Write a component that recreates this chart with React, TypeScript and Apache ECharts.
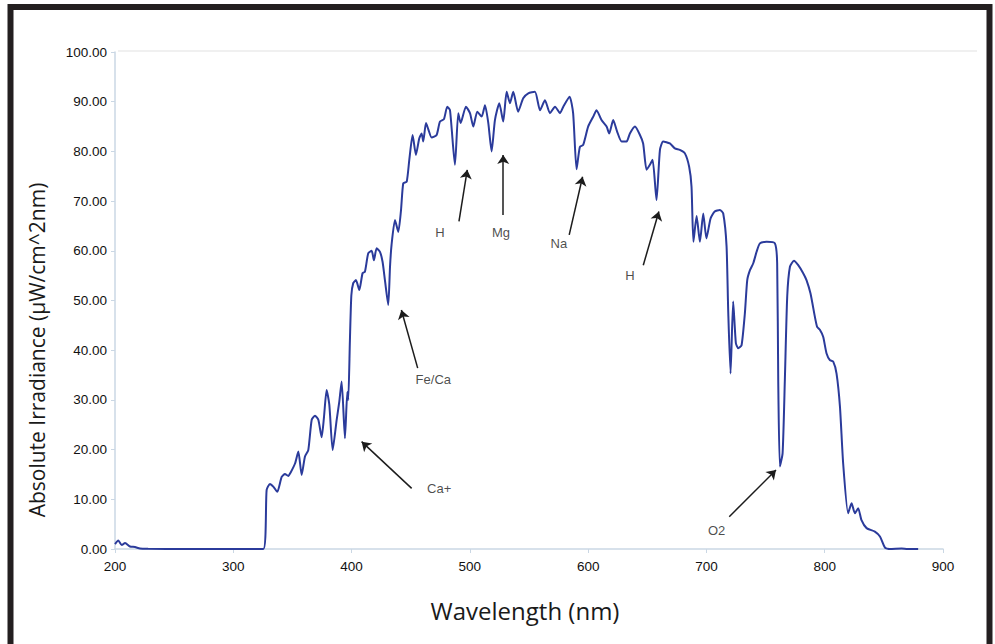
import React, { useEffect, useRef } from "react";
import * as echarts from "echarts";

// Spectrum: wavelength (nm) and absolute irradiance (µW/cm^2nm)
const wavelength: number[] = [
  200, 202.8, 205.7, 208.5, 212.7, 216.9, 221.1, 228, 260, 300, 325.4,
  328.2, 331, 334, 337.2, 340.9, 343.7, 346.5, 348.5, 352.2, 355, 357.8, 360.6, 363.4, 366.3, 369.1,
  371.9, 374.7, 376.7, 378.9, 381.2, 384, 387.4, 389.6, 391.6, 394.4, 396.4, 397.2, 398.6, 399.8,
  401.4, 403.7, 406.5, 409.3, 411.3, 414.1, 417, 418.9, 421.2, 424, 426.2, 428.2, 431, 432.5, 433.8,
  436.7, 439.5, 441.8, 443.7, 446.6, 448.8, 451.6, 454.4, 457.2, 459.2, 460.6, 462.9, 464.8, 467.7,
  471.9, 474.7, 478.1, 480.9, 483.2, 487.4, 490.2, 492.2, 496.7, 500.1, 502.9, 506.3, 510, 512.8,
  515.6, 518.4, 521.2, 524.9, 528.2, 531.1, 533.9, 536.7, 540.8, 545.1, 549.4, 555, 559.3, 563.5,
  567.7, 572, 576.2, 579, 584.3, 587.3, 590.2, 593, 595.8, 600, 604.3, 607.1, 611.3, 615.6, 617.8,
  621.2, 624.5, 628.3, 632.5, 635.3, 639.6, 643.8, 646.5, 649.4, 652.2, 654.5, 657.8, 660.7, 663.4,
  669.1, 673.3, 677.5, 681.8, 685.4, 687.4, 689, 691.7, 694.5, 697.3, 700, 703.5, 707, 711.4, 714.2,
  717, 718.4, 720.4, 722.6, 724.9, 726.9, 729.7, 732.5, 734.5, 736.8, 739.6, 742.4, 745.2, 750.9,
  757.9, 759.8, 760.7, 762.1, 764.4, 766.3, 768.3, 770.6, 774, 777.6, 781.8, 784.6, 788, 791.7, 793.6,
  795.9, 798.7, 801.5, 804.4, 807.2, 810, 812.9, 815.6, 819.8, 822.7, 825.5, 828.3, 831.1, 835.4,
  842.4, 846.7, 850.9, 855, 865, 870, 879,
];
const irradiance: number[] = [
  1.0, 1.7, 0.8, 1.2, 0.5, 0.4, 0.1, 0.05, 0, 0, 0,
  11.9, 13.1, 12.5, 11.5, 14.5, 15.1, 14.7, 15.4, 17.2, 19.6, 14.9, 18.6, 19.9, 26, 26.8,
  26, 22.5, 26.6, 32, 29, 19.9, 26, 29.6, 33.7, 22.3, 31.6, 30, 42, 51,
  53.5, 54.1, 52.1, 55.5, 55.8, 59.5, 60, 58.1, 60.5, 59.8, 57.8, 54.1, 49.1, 56.8, 61.2,
  66.2, 63.8, 68.2, 73.6, 73.9, 78.3, 83.3, 79.3, 82.6, 83.6, 82, 85.7, 84.5, 82.8,
  83.3, 86, 86.5, 89, 88.3, 77.3, 87.7, 85.7, 89, 87.7, 85, 88, 87, 89.3,
  85.7, 80, 86.3, 89.7, 86, 92, 89.7, 92, 88, 90.7, 91.7, 92, 88.3, 90.3,
  87.7, 89, 87.7, 89, 91, 87.7, 76.4, 80.9, 81.3, 85, 87, 88.3, 86.3, 85, 83.6,
  86.3, 84, 82, 82, 83.6, 85, 83.3, 81.6, 76.3, 77.3, 78.3, 70.2, 80.3, 82,
  81.6, 80.6, 80.3, 79.6, 76.9, 72.9, 61.8, 67, 61.8, 67.5, 62.5, 66.5, 67.9, 68.2, 67.5,
  61, 48, 35.3, 49.8, 41.4, 40.4, 41, 47.4, 54.1, 56.1, 57.5, 59.8, 61.5, 61.8,
  61.5, 57.5, 34, 16.6, 19.3, 34, 50.8, 56.8, 58, 57.1, 55.5, 54.1, 51.4, 46.7, 44.7,
  44.1, 42.7, 39.4, 38, 37.7, 35.3, 28.6, 17.2, 7.2, 9.2, 7.2, 8.2, 5.8, 4.2,
  3.5, 2.5, 0.3, 0, 0.1, 0, 0,
];

// Annotations (data coordinates)
const annotationNames: string[] = ["Ca+", "Fe/Ca", "H", "Mg", "Na", "H", "O2"];
const labelX: number[] = [474.1, 469.1, 474.7, 526.3, 575.3, 635.3, 708.6];
const labelY: number[] = [12.2, 34.3, 63.8, 63.7, 61.5, 55.1, 3.8];
const arrowFromX: number[] = [450.8, 455.9, 490.8, 528.2, 584.0, 646.6, 719.3];
const arrowFromY: number[] = [12.2, 36.4, 65.9, 67.2, 63.2, 57.1, 6.5];
const arrowToX: number[] = [408.5, 442.1, 497.8, 528.2, 595.3, 659.8, 758.8];
const arrowToY: number[] = [21.6, 48.1, 76.3, 79.3, 74.9, 67.9, 15.9];

const xTitle = "Wavelength (nm)";
const yTitle = "Absolute Irradiance (μW/cm^2nm)";

export default function App() {
  const ref = useRef<HTMLDivElement>(null);
  useEffect(() => {
    if (!ref.current) return;
    const chart = echarts.init(ref.current, undefined, { renderer: "svg" });
    const lineData = wavelength.map((w, i) => [w, irradiance[i]]);
    const labelData = annotationNames.map((n, i) => ({ name: n, value: [labelX[i], labelY[i]] }));
    const arrows = annotationNames.map((_, i) => [
      { coord: [arrowFromX[i], arrowFromY[i]] },
      { coord: [arrowToX[i], arrowToY[i]] },
    ]);
    const axisColor = "#cad7e4";
    const tickFont = { color: "#111111", fontSize: 13.5, fontFamily: "Liberation Sans, Arial, sans-serif" };
    chart.setOption({
      animation: false,
      backgroundColor: "#ffffff",
      grid: { left: 115, right: 52, top: 52, bottom: 95, containLabel: false },
      xAxis: {
        type: "value",
        min: 200,
        max: 900,
        interval: 100,
        axisLine: { show: true, lineStyle: { color: axisColor, width: 1.5 } },
        axisTick: { show: true, length: 4, lineStyle: { color: axisColor } },
        axisLabel: { ...tickFont, margin: 10 },
        splitLine: { show: false },
      },
      yAxis: {
        type: "value",
        min: 0,
        max: 100,
        interval: 10,
        axisLine: { show: true, lineStyle: { color: axisColor, width: 1.5 } },
        axisTick: { show: true, length: 4, lineStyle: { color: axisColor } },
        axisLabel: { ...tickFont, margin: 8, formatter: (v: number) => v.toFixed(2) },
        splitLine: { show: false },
      },
      graphic: [
        {
          type: "line",
          shape: { x1: 118, y1: 51, x2: 977, y2: 51 },
          style: { stroke: "#f0f0f0", lineWidth: 2 },
          silent: true,
        },
        {
          type: "rect",
          shape: { x: 10.5, y: 7, width: 979, height: 700 },
          style: { fill: "none", stroke: "#231f20", lineWidth: 6 },
          silent: true,
        },
        {
          type: "text",
          x: 525,
          y: 610,
          style: {
            text: xTitle,
            fill: "#1a1a1a",
            font: "24px 'Open Sans', sans-serif",
            textAlign: "center",
            textVerticalAlign: "middle",
          },
        },
        {
          type: "text",
          x: 37,
          y: 350,
          rotation: Math.PI / 2,
          style: {
            text: yTitle,
            fill: "#1a1a1a",
            font: "21px 'Open Sans', sans-serif",
            textAlign: "center",
            textVerticalAlign: "middle",
          },
        },
      ],
      series: [
        {
          type: "line",
          data: lineData,
          showSymbol: false,
          smooth: 0.2,
          lineStyle: { color: "#2b3b9b", width: 2 },
          silent: true,
        },
        {
          type: "scatter",
          data: labelData,
          symbolSize: 0,
          itemStyle: { color: "#1c1c1c" },
          label: {
            show: true,
            position: "top",
            distance: 0,
            offset: [0, 7],
            formatter: "{b}",
            color: "#1c1c1c",
            fontSize: 13,
            fontFamily: "Liberation Sans, Arial, sans-serif",
            textBorderWidth: 0,
          },
          silent: true,
          markLine: {
            silent: true,
            symbol: ["none", "arrow"],
            symbolSize: 9,
            label: { show: false },
            lineStyle: { color: "#1c1c1c", width: 1.5, type: "solid" },
            data: arrows,
          },
        },
      ],
    });
    return () => chart.dispose();
  }, []);
  return (
    <div
      ref={ref}
      style={{ position: "absolute", left: 0, top: 0, width: 995, height: 644 }}
    />
  );
}
